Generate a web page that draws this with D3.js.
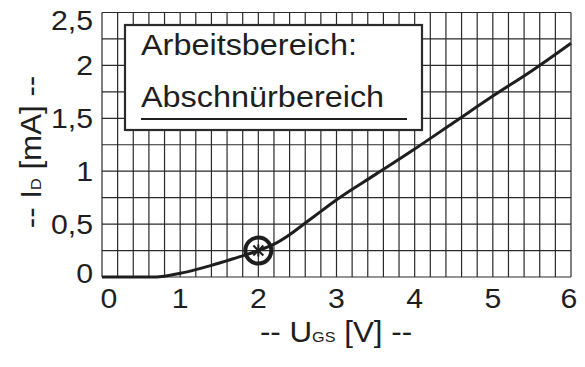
<!DOCTYPE html>
<html>
<head>
<meta charset="utf-8">
<script src="https://cdn.jsdelivr.net/npm/d3@7/dist/d3.min.js"></script>
<style>
  html, body { margin: 0; padding: 0; background: #fff; }
  svg { display: block; font-family: "Liberation Sans", Arial, sans-serif; }
</style>
</head>
<body>
<svg id="chart" width="585" height="367"></svg>
<script>
// Transfer characteristic I_D(U_GS)
const ugs = [0, 0.4, 0.6, 0.8, 1.0, 1.2, 1.4, 1.6, 1.8, 2.0, 2.2, 2.4, 2.6, 2.8, 3.0, 3.5, 4.0, 4.5, 5.0, 5.5, 6.0];
const id  = [0, 0, 0, 0.008, 0.035, 0.07, 0.11, 0.155, 0.2, 0.25, 0.31, 0.4, 0.51, 0.62, 0.73, 0.97, 1.21, 1.46, 1.71, 1.95, 2.21];

// Operating point
const opU = [2.0];
const opI = [0.25];

// Axis tick labels
const xTicks = [0, 1, 2, 3, 4, 5, 6];
const xTickLabels = ["0", "1", "2", "3", "4", "5", "6"];
const yTicks = [0, 0.5, 1, 1.5, 2, 2.5];
const yTickLabels = ["0", "0,5", "1", "1,5", "2", "2,5"];

// Grid spacing
const xGridStep = 0.2;
const yGridStep = 0.25;

const legendLines = ["Arbeitsbereich:", "Abschnürbereich"];

const svg = d3.select("#chart");
const x = d3.scaleLinear().domain([0, 6]).range([102, 571]);
const y = d3.scaleLinear().domain([0, 2.5]).range([277, 12.5]);

const ink = "#1e1e1e";
const gridColor = "#2a2a2a";
const stretch = 1.08; // slightly wide lettering

// Places a horizontally stretched text at (tx, ty)
function label(parent, tx, ty, size, anchor, rot) {
  return parent.append("text")
    .attr("transform", `translate(${tx},${ty})${rot ? ` rotate(${rot})` : ""} scale(${stretch},1)`)
    .attr("text-anchor", anchor).attr("font-size", size).attr("fill", ink);
}

// Grid
const xGrid = d3.range(0, 6 + 1e-9, xGridStep);
const yGrid = d3.range(0, 2.5 + 1e-9, yGridStep);
const grid = svg.append("g");
grid.selectAll("line.v").data(xGrid).join("line")
  .attr("x1", d => x(d)).attr("x2", d => x(d))
  .attr("y1", y(2.5)).attr("y2", y(0))
  .attr("stroke", gridColor).attr("stroke-width", 1.2);
grid.selectAll("line.h").data(yGrid).join("line")
  .attr("x1", x(0)).attr("x2", x(6))
  .attr("y1", d => y(d)).attr("y2", d => y(d))
  .attr("stroke", gridColor).attr("stroke-width", 1.2);

// Legend box
const lg = svg.append("g");
lg.append("rect")
  .attr("x", 125).attr("y", 25).attr("width", 297).attr("height", 105)
  .attr("fill", "#fff").attr("stroke", "#2a2a2a").attr("stroke-width", 2.2);
label(lg, 141, 55, 30, "start").text(legendLines[0]);
label(lg, 141, 107, 30, "start").text(legendLines[1]);
lg.append("line").attr("x1", 141).attr("x2", 407).attr("y1", 119).attr("y2", 119)
  .attr("stroke", ink).attr("stroke-width", 2.2);

// Curve
const pts = ugs.map((u, i) => [u, id[i]]);
const line = d3.line().x(d => x(d[0])).y(d => y(d[1])).curve(d3.curveMonotoneX);
svg.append("path").datum(pts).attr("d", line)
  .attr("fill", "none").attr("stroke", ink).attr("stroke-width", 3)
  .attr("stroke-linejoin", "round");

// Operating point marker
const op = svg.append("g");
opU.forEach((u, i) => {
  const cx = x(u), cy = y(opI[i]);
  op.append("circle").attr("cx", cx).attr("cy", cy).attr("r", 13)
    .attr("fill", "none").attr("stroke", ink).attr("stroke-width", 4);
  const s = 5;
  [[-s, -s, s, s], [-s, s, s, -s], [0, -s * 1.2, 0, s * 1.2]].forEach(c => {
    op.append("line").attr("x1", cx + c[0]).attr("y1", cy + c[1])
      .attr("x2", cx + c[2]).attr("y2", cy + c[3])
      .attr("stroke", ink).attr("stroke-width", 2);
  });
});

// Y tick labels
const yl = svg.append("g");
yTicks.forEach((d, i) => {
  let ty = y(d) + 10;
  if (i === yTicks.length - 1) ty = 30;
  if (i === 0) ty = 283;
  label(yl, 93, ty, 28, "end").text(yTickLabels[i]);
});

// X tick labels
const xl = svg.append("g");
xTicks.forEach((d, i) => {
  let tx = x(d);
  if (i === 0) tx = x(d) + 7;
  if (i === xTicks.length - 1) tx = x(d) - 2;
  label(xl, tx, 308, 28, "middle").text(xTickLabels[i]);
});

// Axis titles
const xt = label(svg, 336, 342, 29, "middle");
xt.append("tspan").text("-- U");
xt.append("tspan").attr("font-size", 15).text("GS");
xt.append("tspan").text(" [V] --");

const yt = label(svg, 41, 152, 29, "middle", -90);
yt.append("tspan").text("-- I");
yt.append("tspan").attr("font-size", 15).text("D");
yt.append("tspan").text(" [mA] --");
</script>
</body>
</html>
